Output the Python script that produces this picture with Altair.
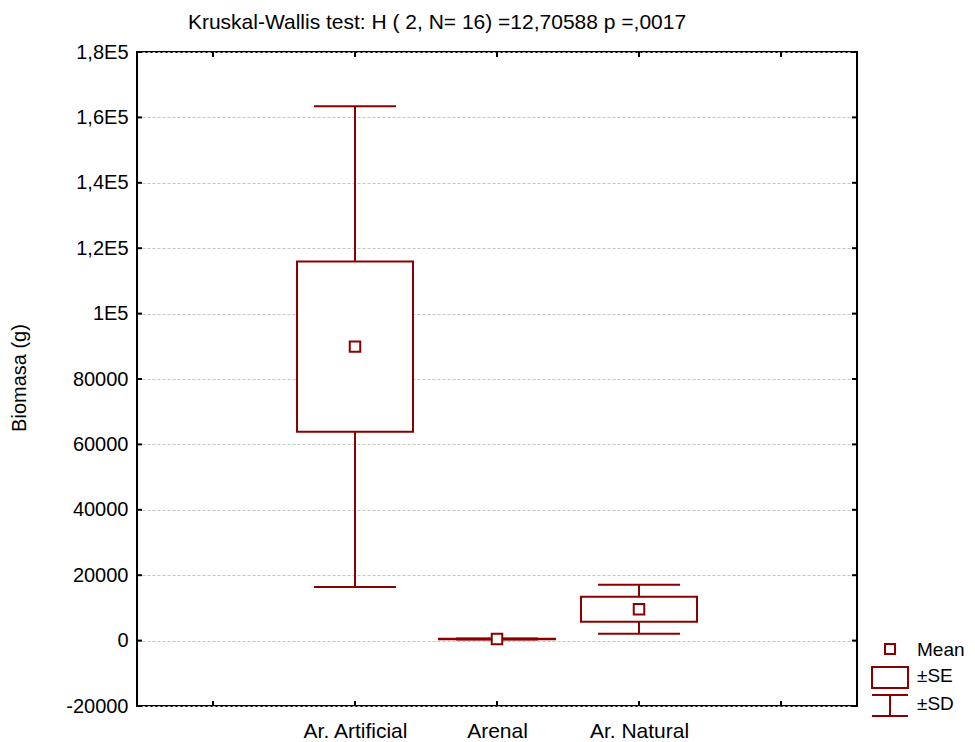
import altair as alt
import pandas as pd

# ---- data ----
groups = ["Ar. Artificial", "Arenal", "Ar. Natural"]
group_pos = [1, 2, 3]
means = [89900, 500, 9600]
se = [26000, 60, 3800]
sd = [73500, 170, 7500]

x_ticks = [0, 1, 2, 3, 4]
x_tick_labels = ["", "Ar. Artificial", "Arenal", "Ar. Natural", ""]
y_ticks = [-20000, 0, 20000, 40000, 60000, 80000, 100000, 120000, 140000, 160000, 180000]
y_tick_labels = ["-20000", "0", "20000", "40000", "60000", "80000", "1E5", "1,2E5", "1,4E5", "1,6E5", "1,8E5"]

title_text = "Kruskal-Wallis test: H ( 2, N= 16) =12,70588 p =,0017"
y_title = "Biomasa (g)"
legend_labels = ["Mean", "\u00b1SE", "\u00b1SD"]

RED = "#8B0000"
FONT = "Liberation Sans"
W, H = 720, 654

df = pd.DataFrame({"idx": group_pos, "group": groups, "mean": means, "se": se, "sd": sd})
df["se_lo"] = df["mean"] - df["se"]
df["se_hi"] = df["mean"] + df["se"]
df["sd_lo"] = df["mean"] - df["sd"]
df["sd_hi"] = df["mean"] + df["sd"]

def js_list(vals):
    return "[" + ",".join(repr(v) if isinstance(v, str) else str(v) for v in vals) + "]"

x_label_expr = f"{js_list(x_tick_labels)}[indexof({js_list(x_ticks)}, datum.value)]"
y_label_expr = f"{js_list(y_tick_labels)}[indexof({js_list(y_ticks)}, datum.value)]"

x_scale = alt.Scale(domain=[-0.5, 4.5], nice=False, zero=False)
y_scale = alt.Scale(domain=[-20000, 180000], nice=False, zero=False)
x_axis = alt.Axis(values=x_ticks, labelExpr=x_label_expr, ticks=False, tickSize=0, grid=False,
                  domain=False, title=None, labelFontSize=21, labelPadding=14, labelColor="black",
                  labelFont=FONT)
y_axis = alt.Axis(values=y_ticks, labelExpr=y_label_expr, ticks=False, tickSize=0, grid=True,
                  gridColor="#c4c4c4", gridDash=[3, 2], gridWidth=1, domain=False, title=None,
                  labelFontSize=20, labelPadding=9, labelColor="black", labelFont=FONT)

def X(field):
    return alt.X(f"{field}:Q", scale=x_scale, axis=x_axis)

def Y(field):
    return alt.Y(f"{field}:Q", scale=y_scale, axis=y_axis)

base = alt.Chart(df)

sd_line = base.mark_rule(color=RED, strokeWidth=2).encode(x=X("idx"), y=Y("sd_lo"), y2="sd_hi")
cap_lo = base.mark_tick(orient="horizontal", size=82, thickness=2, color=RED, opacity=1).encode(
    x=X("idx"), y=Y("sd_lo"))
cap_hi = base.mark_tick(orient="horizontal", size=82, thickness=2, color=RED, opacity=1).encode(
    x=X("idx"), y=Y("sd_hi"))
box = base.mark_bar(size=116, fill="white", stroke=RED, strokeWidth=2, orient="vertical").encode(
    x=X("idx"), y=Y("se_lo"), y2="se_hi")
mean_pt = base.mark_square(size=110, fill="white", stroke=RED, strokeWidth=2, opacity=1,
                           fillOpacity=1).encode(x=X("idx"), y=Y("mean"))

# inward axis ticks on all four sides
xt = pd.DataFrame({"idx": x_ticks})
yt = pd.DataFrame({"mean": y_ticks})
tick_bottom = alt.Chart(xt).mark_rule(color="black", strokeWidth=2).encode(
    x=X("idx"), y=alt.value(H), y2=alt.value(H - 5))
tick_top = alt.Chart(xt).mark_rule(color="black", strokeWidth=2).encode(
    x=X("idx"), y=alt.value(0), y2=alt.value(5))
tick_left = alt.Chart(yt).mark_rule(color="black", strokeWidth=2).encode(
    y=Y("mean"), x=alt.value(0), x2=alt.value(5))
tick_right = alt.Chart(yt).mark_rule(color="black", strokeWidth=2).encode(
    y=Y("mean"), x=alt.value(W), x2=alt.value(W - 5))

one = alt.Chart(pd.DataFrame({"a": [0]}))
title = one.mark_text(text=title_text, fontSize=21, font=FONT, color="black", align="center",
                      baseline="middle").encode(x=alt.value(300), y=alt.value(-29))
ytitle = one.mark_text(text=y_title, fontSize=20, font=FONT, color="black", align="center",
                       baseline="middle", angle=270).encode(x=alt.value(-117), y=alt.value(326))

# legend (bottom right, outside plot)
lg_mean = one.mark_square(size=100, fill="white", stroke=RED, strokeWidth=2, opacity=1).encode(
    x=alt.value(753), y=alt.value(597))
lg_se = one.mark_rect(fill="white", stroke=RED, strokeWidth=2).encode(
    x=alt.value(735), x2=alt.value(771), y=alt.value(615), y2=alt.value(636))
lg_sd_top = one.mark_rule(color=RED, strokeWidth=2).encode(
    x=alt.value(735), x2=alt.value(771), y=alt.value(643), y2=alt.value(643))
lg_sd_bot = one.mark_rule(color=RED, strokeWidth=2).encode(
    x=alt.value(735), x2=alt.value(771), y=alt.value(664), y2=alt.value(664))
lg_sd_v = one.mark_rule(color=RED, strokeWidth=2).encode(
    x=alt.value(753), y=alt.value(643), y2=alt.value(664))
lg_text = alt.Chart(pd.DataFrame({"t": legend_labels, "yy": [598, 624, 652]})).mark_text(
    fontSize=19, font=FONT, color="black", align="left", baseline="middle").encode(
    text="t:N", x=alt.value(780), y=alt.Y("yy:Q", scale=None))

chart = alt.layer(
    sd_line, cap_lo, cap_hi, box, mean_pt,
    tick_bottom, tick_top, tick_left, tick_right,
    title, ytitle,
    lg_mean, lg_se, lg_sd_top, lg_sd_bot, lg_sd_v, lg_text,
).properties(
    width=W, height=H,
    autosize=alt.AutoSizeParams(type="none"),
    padding={"left": 129, "top": 44, "right": 110, "bottom": 40},
    background="white",
).configure_view(stroke="black", strokeWidth=2)

chart.save("out.html", embed_options={"renderer": "svg", "actions": False})
